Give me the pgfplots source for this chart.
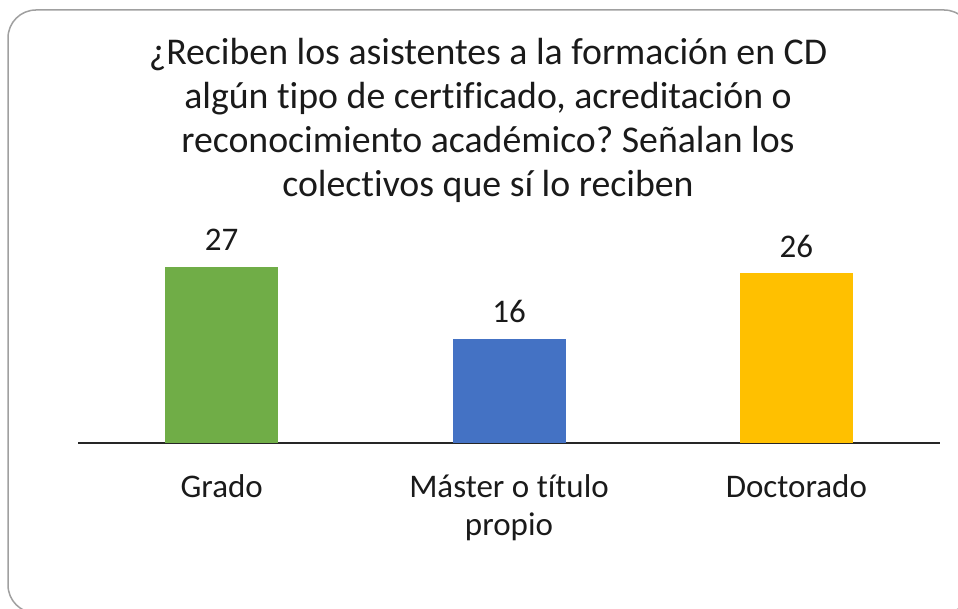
\documentclass[border=0pt]{standalone}
\usepackage{fontspec}
\setmainfont{Carlito}[Ligatures=NoCommon]
\usepackage{pgfplots}
\pgfplotsset{compat=1.18}
\definecolor{cgreen}{HTML}{70AD47}
\definecolor{cblue}{HTML}{4472C4}
\definecolor{cgold}{HTML}{FFC000}
\definecolor{txt}{HTML}{1A1A1A}
\definecolor{frame}{HTML}{A0A0A0}
\frenchspacing
\begin{document}
\begin{tikzpicture}[x=1pt,y=1pt]
\path[use as bounding box] (0,0) rectangle (958,609);
\begin{scope}
\clip (0,0) rectangle (958,609);
\draw[frame, line width=1.5pt, rounded corners=28pt] (8,599) rectangle (972,-4);
\end{scope}
\node[txt, anchor=base, font=\fontsize{37.8}{44}\selectfont] at (488,544) {¿Reciben los asistentes a la formación en CD};
\node[txt, anchor=base, font=\fontsize{37.8}{44}\selectfont] at (488,500) {algún tipo de certificado, acreditación o};
\node[txt, anchor=base, font=\fontsize{37.8}{44}\selectfont] at (488,456) {reconocimiento académico? Señalan los};
\node[txt, anchor=base, font=\fontsize{37.8}{44}\selectfont] at (488,412) {colectivos que sí lo reciben};
\begin{axis}[
  at={(78pt,166pt)}, anchor=south west,
  scale only axis, width=862pt, height=195.6pt,
  xmin=-0.5, xmax=2.5, ymin=0, ymax=30,
  axis x line=bottom, axis y line=none,
  x axis line style={-, draw=black!85, line width=1.5pt},
  ybar, bar width=113pt, bar shift=0pt,
  xtick={0,1,2}, xticklabels={Grado, {Máster o título\\propio}, Doctorado},
  major tick length=0pt,
  xticklabel style={txt, align=center, font=\fontsize{33}{38.5}\selectfont, yshift=-28pt},
  nodes near coords,
  nodes near coords style={txt, font=\fontsize{33}{37}\selectfont, anchor=base, yshift=16pt},
  /pgf/number format/assume math mode=true,
  clip=false,
]
\addplot[fill=cgreen, draw=none] coordinates {(0,27)};
\addplot[fill=cblue, draw=none] coordinates {(1,16)};
\addplot[fill=cgold, draw=none] coordinates {(2,26)};
\end{axis}
\end{tikzpicture}
\end{document}
